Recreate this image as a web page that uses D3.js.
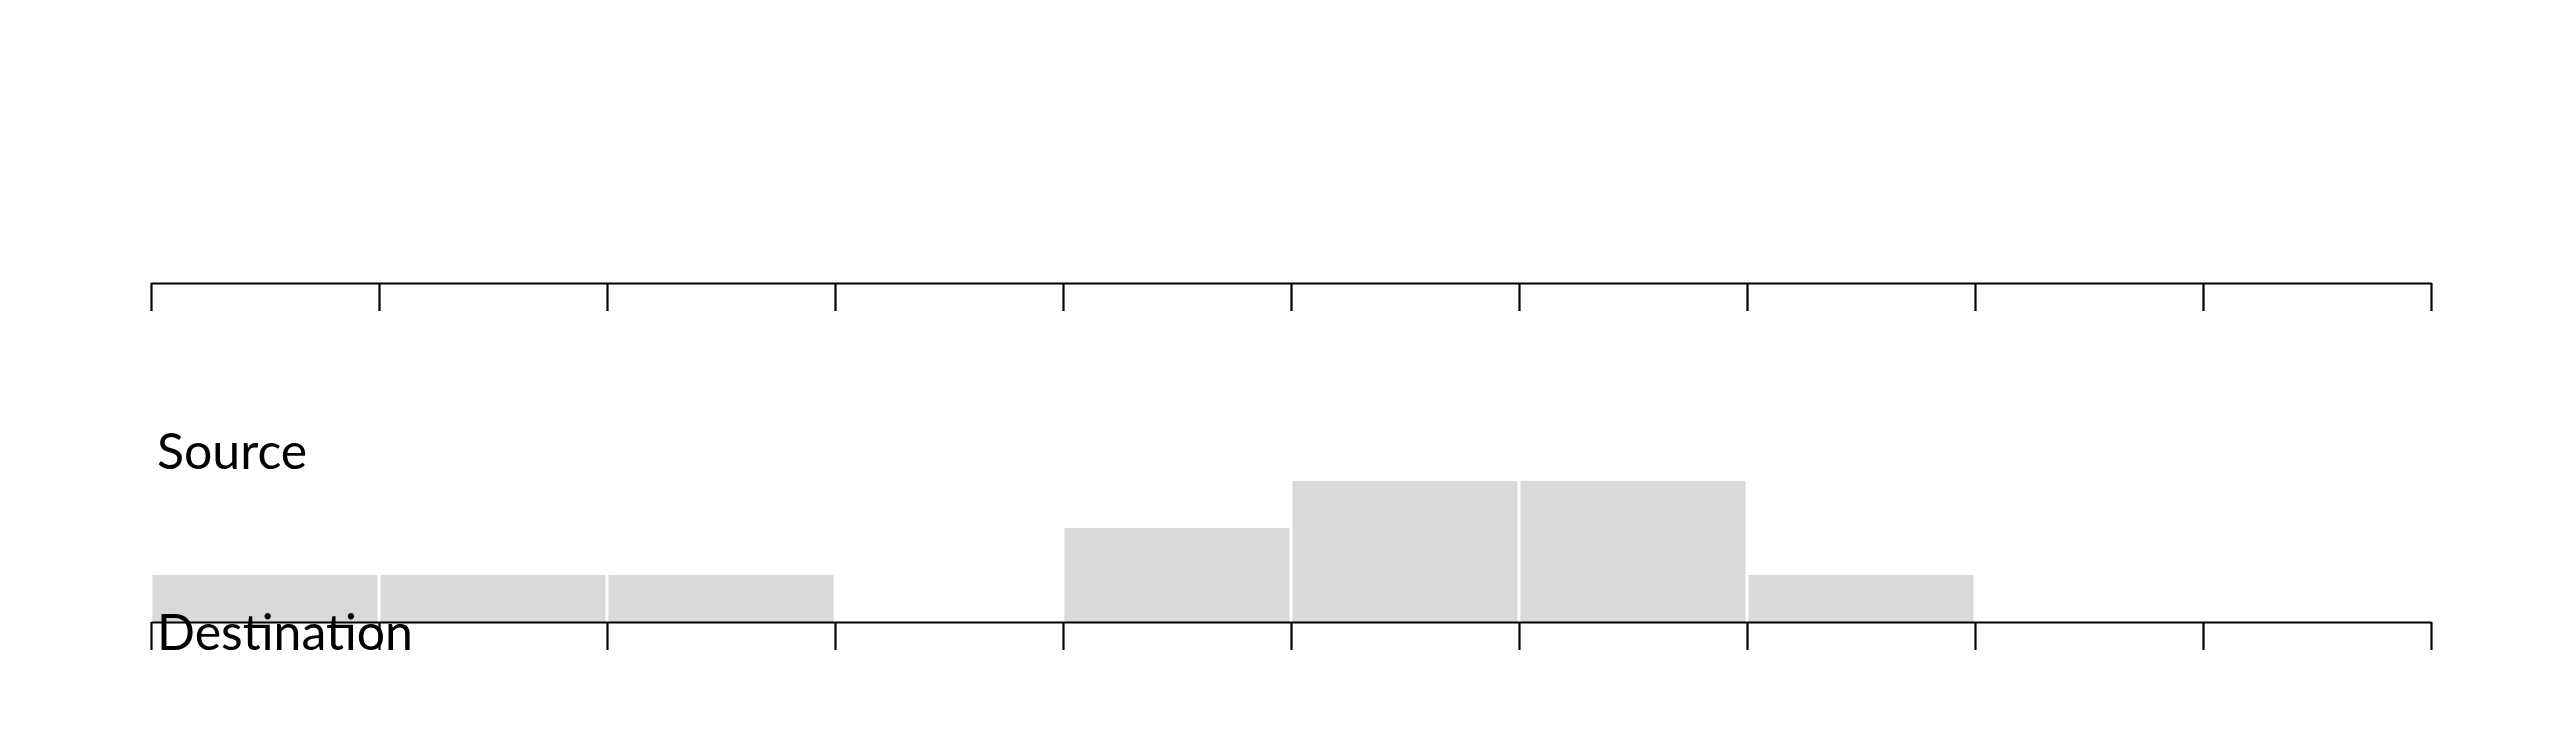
<!DOCTYPE html>
<html><head><meta charset="utf-8">
<script src="https://cdn.jsdelivr.net/npm/d3@7"></script>
<style>body{margin:0;background:#fff}</style></head>
<body><svg id="c" width="2560" height="742"></svg>
<script>
const bins = [0,1,2,3,4,5,6,7,8,9];
const counts = [1,1,1,0,2,3,3,1,0,0];
const tickValues = [0,1,2,3,4,5,6,7,8,9,10];
const labels = ["Source","Destination"];

const svg = d3.select("#c");
const x = d3.scaleLinear().domain([0,10]).range([151,2431]);
const yTop = 283, yBot = 622;
const y = d3.scaleLinear().domain([0,3]).range([yBot, yBot-141]);

svg.selectAll("rect").data(bins).join("rect")
  .attr("x", d=>x(d)+1.5).attr("width", d=>x(d+1)-x(d)-3)
  .attr("y", (d,i)=>y(counts[i])).attr("height",(d,i)=>yBot-y(counts[i]))
  .attr("fill","#d9d9d9");

function axis(yy){
  const g = svg.append("g").attr("transform",`translate(0,${yy})`)
    .call(d3.axisBottom(x).tickValues(tickValues).tickFormat("").tickSize(28).tickSizeOuter(0));
  g.selectAll("path,line").attr("stroke","#000").attr("stroke-width",2.2);
}
axis(yTop); axis(yBot);

svg.selectAll("text.lab").data(labels).join("text").attr("class","lab")
  .attr("x",157).attr("y",(d,i)=>[469,650][i])
  .attr("font-family","Lato, sans-serif").attr("font-size",50)
  .attr("fill","#000").text(d=>d);
</script></body></html>
